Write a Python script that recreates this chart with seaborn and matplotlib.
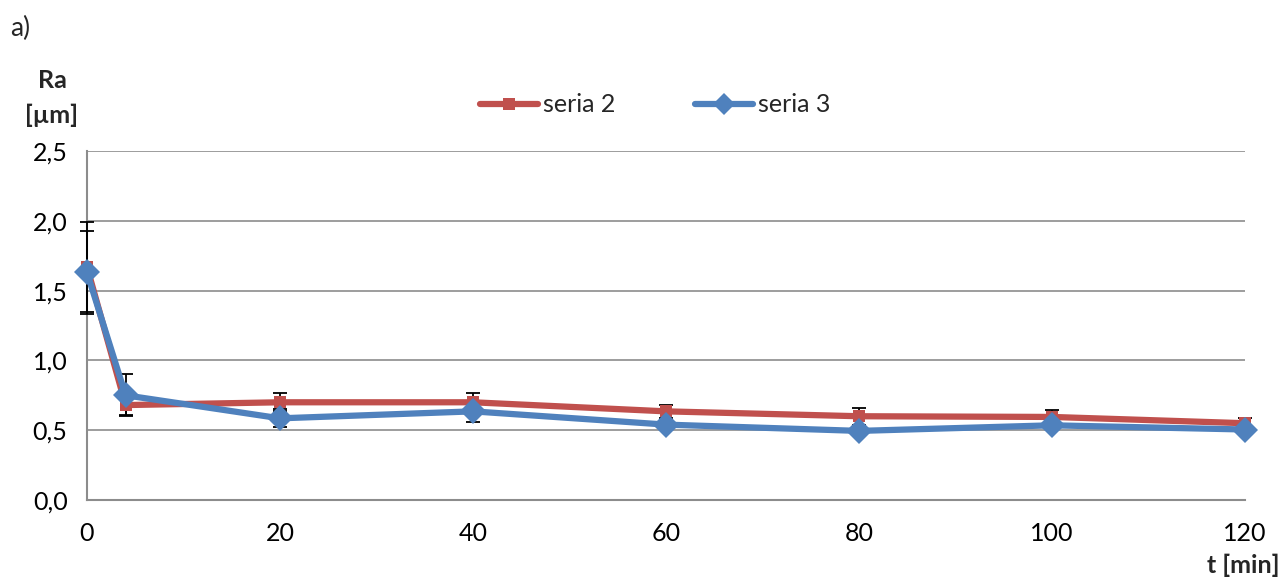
import numpy as np
import pandas as pd
import matplotlib
matplotlib.use("Agg")
import matplotlib.pyplot as plt
import seaborn as sns
from matplotlib.lines import Line2D

# data
t_min = [0, 4, 20, 40, 60, 80, 100, 120]
ra_seria2 = [1.67, 0.68, 0.70, 0.70, 0.635, 0.60, 0.595, 0.55]
err_seria2 = [0.32, 0.07, 0.065, 0.07, 0.045, 0.06, 0.05, 0.04]
ra_seria3 = [1.63, 0.75, 0.585, 0.635, 0.54, 0.495, 0.535, 0.505]
err_seria3 = [0.30, 0.15, 0.065, 0.075, 0.03, 0.03, 0.02, 0.02]
series_names = ["seria 2", "seria 3"]
y_ticks = [0.0, 0.5, 1.0, 1.5, 2.0, 2.5]
x_ticks = [0, 20, 40, 60, 80, 100, 120]

sns.set_style("white")
plt.rcParams['font.family'] = ['Lato', 'DejaVu Sans']
FS = 18

df = pd.DataFrame({
    't': t_min * 2,
    'Ra': ra_seria2 + ra_seria3,
    'seria': [series_names[0]] * len(t_min) + [series_names[1]] * len(t_min),
})
palette = {"seria 2": "#C0504D", "seria 3": "#4F81BD"}

fig = plt.figure(figsize=(12.86, 5.78), dpi=100)
ax = fig.add_axes([87 / 1286, 1 - 500 / 578, (1245 - 87) / 1286, (500 - 151) / 578])

# error bars (black, over the spine but behind the lines)
for vals, errs in [(ra_seria2, err_seria2), (ra_seria3, err_seria3)]:
    eb = ax.errorbar(t_min, vals, yerr=errs, fmt='none', ecolor='black',
                     elinewidth=1.3, capsize=5, capthick=1.3, zorder=2.7)
    for art in eb.lines[1] + eb.lines[2]:
        art.set_clip_on(False)

sns.lineplot(data=df, x='t', y='Ra', hue='seria', style='seria',
             markers={"seria 2": 's', "seria 3": 'D'}, dashes=False,
             palette=palette, linewidth=4.5, markeredgewidth=0,
             ax=ax, zorder=3, legend=False)
for ln in ax.get_lines():
    ln.set_clip_on(False)
    if ln.get_marker() == 'D':
        ln.set_markersize(13)
    elif ln.get_marker() == 's':
        ln.set_markersize(9)

ax.set_xlim(0, 120)
ax.set_ylim(0, 2.5)
ax.set_xticks(x_ticks)
ax.set_yticks(y_ticks)
ax.set_yticklabels([f"{v:.1f}".replace('.', ',') for v in y_ticks])
ax.set_xticklabels([str(v) for v in x_ticks])
ax.tick_params(axis='both', labelsize=FS, colors='#888888', labelcolor='black',
               length=6, width=1.5, direction='out')
ax.tick_params(axis='y', pad=8)
ax.tick_params(axis='x', pad=10)
ax.grid(axis='y', color='#8c8c8c', linewidth=1.2)
ax.set_axisbelow(True)
for side in ['top', 'right']:
    ax.spines[side].set_visible(False)
for side in ['left', 'bottom']:
    ax.spines[side].set_color('#8c8c8c')
    ax.spines[side].set_linewidth(1.5)
ax.set_xlabel('')
ax.set_ylabel('')

# legend
handles = [
    Line2D([], [], color=palette["seria 2"], marker='s', linewidth=4.5, markersize=8, markeredgewidth=0),
    Line2D([], [], color=palette["seria 3"], marker='D', linewidth=4.5, markersize=11, markeredgewidth=0),
]
fig.legend(handles, series_names, loc='center', bbox_to_anchor=(655 / 1286, 1 - 105 / 578),
           ncol=2, frameon=False, fontsize=FS, handlelength=2.3, handletextpad=0.2,
           columnspacing=3.2)

fig.text(10 / 1286, 1 - 28 / 578, 'a)', fontsize=FS + 1, va='center', ha='left')
fig.text(52 / 1286, 1 - 80 / 578, 'Ra', fontsize=FS, fontweight='bold', va='center', ha='center')
fig.text(52 / 1286, 1 - 115 / 578, '[µm]', fontsize=FS, fontweight='bold', va='center', ha='center')
fig.text(1280 / 1286, 1 - 565 / 578, 't [min]', fontsize=FS, fontweight='bold', va='center', ha='right')

fig.savefig('out.png', dpi=100)
